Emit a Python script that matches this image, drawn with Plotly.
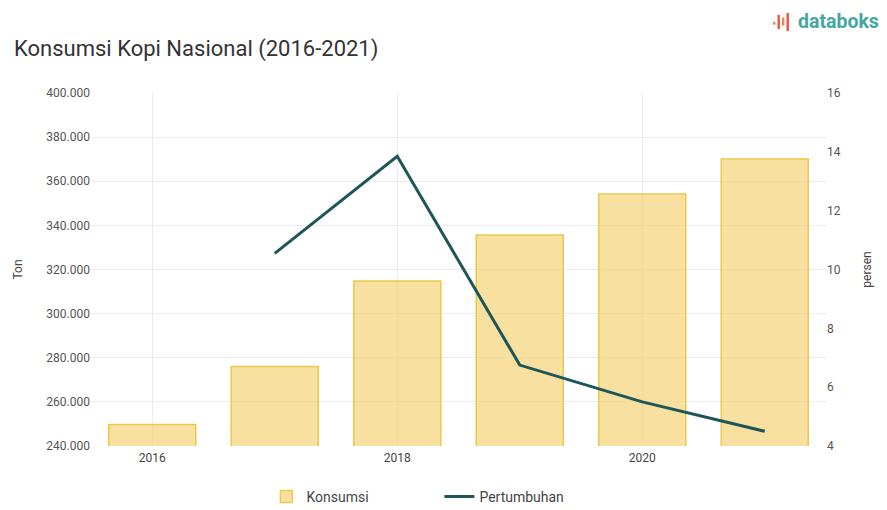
import plotly.graph_objects as go

years = [2016, 2017, 2018, 2019, 2020, 2021]
konsumsi = [249800, 276000, 314800, 335600, 354200, 370100]
pertumbuhan_years = [2017, 2018, 2019, 2020, 2021]
pertumbuhan = [10.55, 13.85, 6.75, 5.5, 4.5]
left_ticks = [240000, 260000, 280000, 300000, 320000, 340000, 360000, 380000, 400000]
left_labels = ["240.000", "260.000", "280.000", "300.000", "320.000", "340.000", "360.000", "380.000", "400.000"]
right_ticks = [4, 6, 8, 10, 12, 14, 16]

# page body has an 8px margin, so the figure is sized/placed to compensate
W, H = 879, 502
L, R, T, B = 83, 61, 85, 64
PW, PH = W - L - R, H - T - B

fig = go.Figure()
fig.add_trace(go.Bar(
    x=years, y=konsumsi, name="Konsumsi",
    marker=dict(color="rgba(245,214,130,0.75)", line=dict(color="#ecc94b", width=1.5)),
    width=0.71,
))
fig.add_trace(go.Scatter(
    x=pertumbuhan_years, y=pertumbuhan, name="Pertumbuhan", yaxis="y2",
    mode="lines", line=dict(color="#1d5658", width=3),
))

fig.update_layout(
    width=W, height=H,
    margin=dict(l=L, r=R, t=T, b=B),
    paper_bgcolor="white", plot_bgcolor="white",
    font=dict(family="Roboto", color="#555", size=12),
    title=dict(text="Konsumsi Kopi Nasional (2016-2021)", x=6 / W, xanchor="left",
               y=1 - 40 / H, yanchor="middle", font=dict(size=22, color="#333")),
    xaxis=dict(range=[2015.5, 2021.5], tickvals=[2016, 2018, 2020], ticktext=["2016", "2018", "2020"],
               showgrid=True, gridcolor="#ebebeb", zeroline=False, showline=False,
               tickfont=dict(size=12, color="#444"), ticks="", automargin=False,
               ticklabelstandoff=3),
    yaxis=dict(range=[240000, 400000], tickvals=left_ticks, ticktext=left_labels,
               showgrid=True, gridcolor="#ebebeb", zeroline=False, showline=False,
               title=dict(text="Ton", font=dict(size=12, color="#444"), standoff=21),
               tickfont=dict(size=12, color="#555"), automargin=False),
    yaxis2=dict(range=[4, 16], tickvals=right_ticks, overlaying="y", side="right",
                showgrid=False, zeroline=False, showline=False,
                title=dict(text="persen", font=dict(size=12, color="#444"), standoff=22),
                tickfont=dict(size=12, color="#555"), automargin=False),
    legend=dict(orientation="h", x=0.474, xanchor="center", yref="container", y=1 - 489 / H,
                yanchor="middle", font=dict(size=14, color="#444"), entrywidth=128, itemwidth=30),
    bargap=0.29,
    showlegend=True,
)

fig.add_annotation(text="<b>databoks</b>", xref="paper", yref="paper",
                   x=(873 - L) / PW, y=(H - B - 14) / PH,
                   xanchor="right", yanchor="middle", showarrow=False,
                   font=dict(family="Roboto", size=19.5, color="#45a7a2"))
# logo icon bars
icon = [(0, 0.35, 0.5, "#f08a4b"), (1, 0.1, 0.9, "#e8553c"), (2, 0.3, 0.75, "#f08a4b"),
        (3, 0.0, 1.0, "#e8553c")]
for i, b0, b1, c in icon:
    x0 = 765 + i * 4.5
    fig.add_shape(type="rect", xref="paper", yref="paper",
                  x0=(x0 - L) / PW, x1=(x0 + 2.4 - L) / PW,
                  y0=(H - B - 23 + 18 * b0) / PH, y1=(H - B - 23 + 18 * b1) / PH,
                  fillcolor=c, line=dict(width=0))

fig.write_html("out.html")
